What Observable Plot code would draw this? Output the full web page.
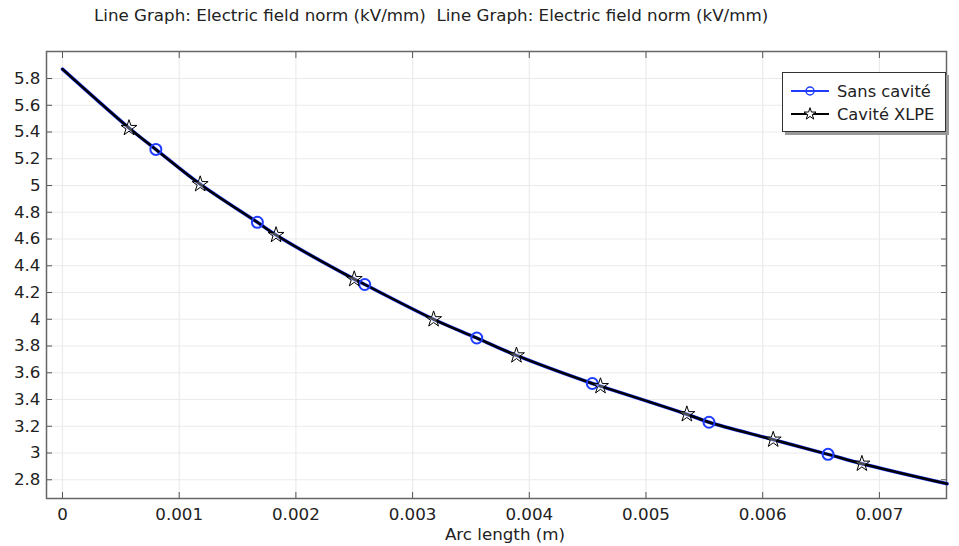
<!DOCTYPE html>
<html><head><meta charset="utf-8">
<script src="https://cdn.jsdelivr.net/npm/d3@7"></script>
<script src="https://cdn.jsdelivr.net/npm/@observablehq/plot@0.6"></script>
<style>
body{margin:0;background:#fff;font-family:"DejaVu Sans",sans-serif;}
#wrap{position:relative;width:959px;height:546px;}
#legend{position:absolute;left:782px;top:72px;width:162px;height:58px;background:#fff;border:1px solid #333;box-shadow:3px 3px 0 #999;color:#222;}
</style></head><body>
<div id="wrap"><div id="chart"></div><div id="legend"></div></div>
<script>
const titleText = "Line Graph: Electric field norm (kV/mm)  Line Graph: Electric field norm (kV/mm)";
const seriesNames = ["Sans cavité", "Cavité XLPE"];
const seriesColors = ["#1f3cff", "#000000"];
// curve samples (Arc length m, E kV/mm)
const curveX = [0, 0.00057, 0.0008, 0.00118, 0.00167, 0.00183, 0.0025, 0.00259, 0.00318, 0.00355, 0.00389, 0.00454, 0.00461, 0.00535, 0.00554, 0.00609, 0.00656, 0.00685, 0.00758];
const curveY = [5.87, 5.43, 5.27, 5.01, 4.725, 4.63, 4.30, 4.26, 4.00, 3.86, 3.73, 3.52, 3.50, 3.29, 3.23, 3.10, 2.99, 2.92, 2.77];
// markers
const circleX = [0.0008, 0.00167, 0.00259, 0.00355, 0.00454, 0.00554, 0.00656];
const circleY = [5.27, 4.725, 4.26, 3.86, 3.52, 3.23, 2.99];
const starX = [0.00057, 0.00118, 0.00183, 0.0025, 0.00318, 0.00389, 0.00461, 0.00535, 0.00609, 0.00685];
const starY = [5.43, 5.01, 4.63, 4.30, 4.00, 3.73, 3.50, 3.29, 3.10, 2.92];
const xTicks = [0, 0.001, 0.002, 0.003, 0.004, 0.005, 0.006, 0.007];
const yTicks = [2.8, 3, 3.2, 3.4, 3.6, 3.8, 4, 4.2, 4.4, 4.6, 4.8, 5, 5.2, 5.4, 5.6, 5.8];
const xLabel = "Arc length (m)";

const FS = 16.7;
const curve = curveX.map((x, i) => ({x, y: curveY[i]}));
const circles = circleX.map((x, i) => ({x, y: circleY[i]}));
const stars = starX.map((x, i) => ({x, y: starY[i]}));
const fmtY = d => String(+d.toFixed(1));
const fmtX = d => String(+d.toFixed(3));

const chart = Plot.plot({
  width: 959, height: 546,
  marginTop: 51, marginBottom: 48, marginLeft: 46, marginRight: 13,
  style: {fontFamily: "DejaVu Sans, sans-serif", fontSize: FS + "px", color: "#222", background: "#fff"},
  x: {domain: [-0.000137, 0.007575]},
  y: {domain: [2.66, 6.002]},
  marks: [
    Plot.gridX(xTicks, {stroke: "#ebebeb", strokeOpacity: 1, strokeWidth: 1.2}),
    Plot.gridY(yTicks, {stroke: "#ebebeb", strokeOpacity: 1, strokeWidth: 1.2}),
    Plot.axisX(xTicks, {anchor: "bottom", tickSize: -6, tickPadding: 16, tickFormat: fmtX, stroke: "#555", label: null, fontSize: FS}),
    Plot.axisX(xTicks, {anchor: "top", tickSize: -6, tickFormat: () => "", stroke: "#555", label: null}),
    Plot.axisY(yTicks, {anchor: "left", tickSize: -6, tickPadding: 12, tickFormat: fmtY, stroke: "#555", label: null, fontSize: FS}),
    Plot.axisY(yTicks, {anchor: "right", tickSize: -6, tickFormat: () => "", stroke: "#555", label: null}),
    Plot.frame({stroke: "#666", strokeWidth: 1.5}),
    Plot.line(curve, {x: "x", y: "y", stroke: seriesColors[0], strokeWidth: 3.5, curve: "catmull-rom"}),
    Plot.line(curve, {x: "x", y: "y", stroke: seriesColors[1], strokeWidth: 2.5, curve: "catmull-rom"}),
    Plot.dot(circles, {x: "x", y: "y", r: 5.5, stroke: seriesColors[0], strokeWidth: 2, fill: "none"}),
    Plot.dot(stars, {x: "x", y: "y", symbol: "star", r: 5, stroke: "#000", strokeWidth: 1, fill: "#fff", fillOpacity: 0.3})
  ]
});
document.getElementById("chart").appendChild(chart);
const svg = d3.select(chart);
svg.selectAll("text").style("font-size", FS + "px");
svg.append("text").attr("x", 94).attr("y", 21).attr("text-anchor", "start")
  .style("font-size", FS + "px").attr("fill", "#222").text(titleText);
svg.append("text").attr("x", 505).attr("y", 540).attr("text-anchor", "middle")
  .style("font-size", FS + "px").attr("fill", "#222").text(xLabel);

// legend
const leg = d3.select("#legend").append("svg").attr("width", 162).attr("height", 58)
  .style("font-family", "DejaVu Sans, sans-serif");
const rows = [{y: 18, sym: "circle"}, {y: 41, sym: "star"}];
rows.forEach((r, i) => {
  leg.append("line").attr("x1", 8).attr("x2", 46).attr("y1", r.y).attr("y2", r.y)
    .attr("stroke", seriesColors[i]).attr("stroke-width", 2);
  if (r.sym === "circle") {
    leg.append("circle").attr("cx", 27).attr("cy", r.y).attr("r", 4).attr("fill", "none")
      .attr("stroke", seriesColors[0]).attr("stroke-width", 1.5);
  } else {
    leg.append("path").attr("d", d3.symbol(d3.symbolStar, 45)()).attr("transform", `translate(27,${r.y})`)
      .attr("fill", "#fff").attr("stroke", "#000").attr("stroke-width", 1);
  }
  leg.append("text").attr("x", 54).attr("y", r.y + 6).style("font-size", "16.3px").attr("fill", "#222")
    .text(seriesNames[i]);
});
</script>
</body></html>
